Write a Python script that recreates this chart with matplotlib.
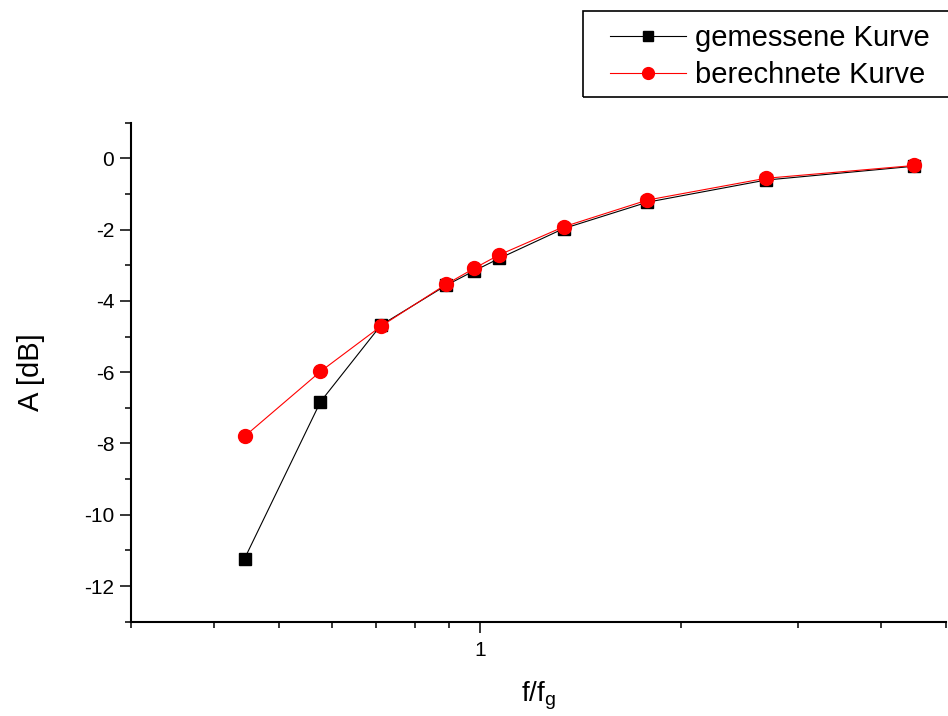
import matplotlib
matplotlib.use("Agg")
import matplotlib.pyplot as plt
from matplotlib.patches import Rectangle
from matplotlib.ticker import MultipleLocator, NullFormatter, FixedLocator, FixedFormatter

plt.rcParams['font.family'] = ['Liberation Sans', 'DejaVu Sans']
plt.rcParams['axes.unicode_minus'] = False

f_ratio = [0.444, 0.577, 0.711, 0.891, 0.980, 1.069, 1.336, 1.784, 2.684, 4.484]
measured = [-11.23, -6.83, -4.68, -3.56, -3.16, -2.81, -1.97, -1.23, -0.61, -0.22]
calculated = [-7.80, -5.98, -4.71, -3.53, -3.09, -2.71, -1.92, -1.17, -0.56, -0.20]
x_major_ticks = [1]
x_major_labels = ["1"]
y_ticks = [0, -2, -4, -6, -8, -10, -12]

W, H = 948, 716
fig = plt.figure(figsize=(W/100, H/100), dpi=100)
ax = fig.add_axes([131/W, 1-621.7/H, (946-131)/W, (621.7-122.7)/H])

ax.plot(f_ratio, measured, color='black', lw=0.8, marker='s', markersize=9,
        markerfacecolor='black', markeredgecolor='black', label='gemessene Kurve', zorder=3)
ax.plot(f_ratio, calculated, color='red', lw=0.8, marker='o', markersize=10,
        markerfacecolor='red', markeredgecolor='red', label='berechnete Kurve', zorder=4)

ax.set_xscale('log')
ax.set_xlim(0.3, 5.0)
ax.set_ylim(-13, 1)

ax.xaxis.set_major_locator(FixedLocator(x_major_ticks))
ax.xaxis.set_major_formatter(FixedFormatter(x_major_labels))
ax.xaxis.set_minor_locator(FixedLocator([0.3, 0.4, 0.5, 0.6, 0.7, 0.8, 0.9, 2, 3, 4, 5]))
ax.xaxis.set_minor_formatter(NullFormatter())

ax.yaxis.set_major_locator(FixedLocator(y_ticks))
ax.yaxis.set_minor_locator(MultipleLocator(1))

for s in ['top', 'right']:
    ax.spines[s].set_visible(False)
for s in ['left', 'bottom']:
    ax.spines[s].set_linewidth(1.5)

ax.tick_params(which='major', direction='out', length=8, width=1.1, labelsize=15, pad=4)
ax.tick_params(which='minor', direction='out', length=4.5, width=1.1)
ax.tick_params(axis='x', which='major', pad=6)

ax.set_ylabel('A [dB]', fontsize=21, labelpad=28)
ax.set_xlabel(r'f/f$_\mathregular{g}$', fontsize=20, labelpad=14)

leg = fig.legend(loc='upper left', bbox_to_anchor=(597/W, 1-11/H),
                 bbox_transform=fig.transFigure, fontsize=21, frameon=False,
                 borderaxespad=0, handlelength=2.6, handletextpad=0.3,
                 labelspacing=0.3, borderpad=0.45, markerscale=0.85)

fig.patches.append(Rectangle((583/W, 1-97/H), (960-583)/W, (97-11)/H,
                             transform=fig.transFigure, fill=False,
                             edgecolor='black', linewidth=1.2, clip_on=False))

fig.savefig('out.png', dpi=100)
